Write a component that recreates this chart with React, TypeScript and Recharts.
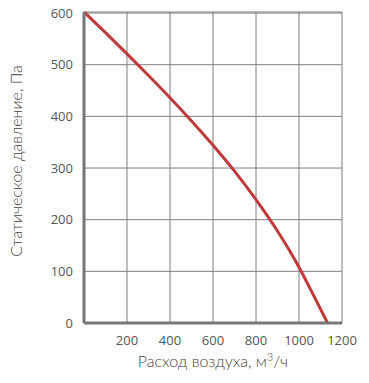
import { LineChart, Line, XAxis, YAxis, CartesianGrid, Label } from 'recharts';

// air flow, m3/h
const flow = [0, 100, 200, 300, 400, 500, 600, 700, 800, 900, 1000, 1066, 1133];
// static pressure, Pa
const pressure = [602, 562, 521, 479, 436, 391, 344, 294, 239, 178, 108, 55, 0];

const xTicks = [0, 200, 400, 600, 800, 1000, 1200];
const yTicks = [0, 100, 200, 300, 400, 500, 600];

const data = flow.map((f, i) => ({ flow: f, pressure: pressure[i] }));

const font = '"Open Sans", sans-serif';
const labelFont = 'Lato, sans-serif';

export default function App() {
  return (
    <div style={{ position: 'absolute', left: 0, top: 0, width: 369, height: 383, background: '#fff' }}>
      <LineChart width={369} height={383} data={data} margin={{ top: 12, right: 27, bottom: 0, left: 0 }}>
        <CartesianGrid stroke="#7f7f7f" strokeWidth={1} />
        <XAxis
          dataKey="flow"
          type="number"
          domain={[0, 1200]}
          ticks={xTicks}
          tickFormatter={(v: number) => (v === 0 ? '' : String(v))}
          height={60}
          stroke="#777"
          strokeWidth={3}
          tickLine={false}
          tickMargin={7}
          tick={{ fill: '#555', fontSize: 13, fontFamily: font }}
        >
          <Label
            content={({ viewBox }: any) => (
              <text
                x={viewBox.x + viewBox.width / 2}
                y={367}
                textAnchor="middle"
                fill="#444"
                fontSize={16}
                fontWeight={300}
                fontFamily={labelFont}
              >
                Расход воздуха, м<tspan dy={-6} fontSize={11}>3</tspan>
                <tspan dy={6}>/ч</tspan>
              </text>
            )}
          />
        </XAxis>
        <YAxis
          dataKey="pressure"
          type="number"
          domain={[0, 600]}
          ticks={yTicks}
          width={84}
          stroke="#777"
          strokeWidth={3}
          tickLine={false}
          tickMargin={5}
          tick={{ fill: '#555', fontSize: 13, fontFamily: font }}
        >
          <Label
            content={() => (
              <text
                x={22}
                y={161}
                transform="rotate(-90, 22, 161)"
                textAnchor="middle"
                fill="#444"
                fontSize={16}
                fontWeight={300}
                fontFamily={labelFont}
              >
                Статическое давление, Па
              </text>
            )}
          />
        </YAxis>
        <Line
          type="monotone"
          dataKey="pressure"
          stroke="#c0393b"
          strokeWidth={3}
          dot={false}
          isAnimationActive={false}
        />
      </LineChart>
    </div>
  );
}
